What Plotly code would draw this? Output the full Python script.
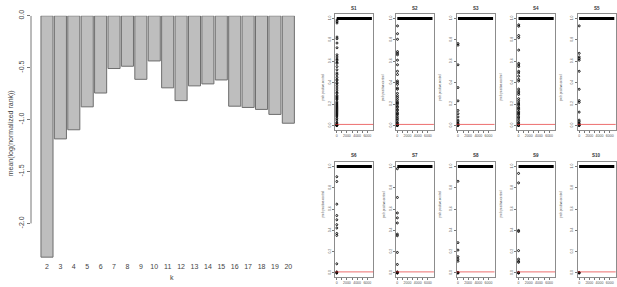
import plotly.graph_objects as go

# ---------------- data ----------------
k_values = [2, 3, 4, 5, 6, 7, 8, 9, 10, 11, 12, 13, 14, 15, 16, 17, 18, 19, 20]
mean_log_rank = [-2.325, -1.186, -1.098, -0.877, -0.744, -0.508, -0.486, -0.612, -0.435,
                 -0.694, -0.817, -0.675, -0.656, -0.618, -0.871, -0.883, -0.902, -0.95, -1.035]
bar_yticks = [-2.0, -1.5, -1.0, -0.5, 0.0]
bar_yticklabels = ["-2.0", "-1.5", "-1.0", "-0.5", "0.0"]

panel_names = ["S1", "S2", "S3", "S4", "S5", "S6", "S7", "S8", "S9", "S10"]
s1 = [0.0, 0.0, 0.0, 0.005, 0.01, 0.02, 0.03, 0.05, 0.064, 0.08, 0.09, 0.1, 0.11, 0.12, 0.13,
      0.14, 0.15, 0.16, 0.17, 0.18, 0.19, 0.2, 0.21, 0.22, 0.24, 0.25, 0.26, 0.27, 0.28, 0.3,
      0.31, 0.33, 0.35, 0.37, 0.39, 0.4, 0.42, 0.43, 0.45, 0.475, 0.49, 0.52, 0.55, 0.58, 0.59,
      0.61, 0.62, 0.64, 0.66, 0.726, 0.77, 0.81, 0.826, 0.957, 0.97, 0.985]
s2 = [0.0, 0.0, 0.0, 0.01, 0.02, 0.03, 0.05, 0.064, 0.08, 0.1, 0.11, 0.12, 0.14, 0.15, 0.17,
      0.18, 0.2, 0.21, 0.22, 0.24, 0.26, 0.277, 0.3, 0.338, 0.35, 0.384, 0.4, 0.415, 0.476,
      0.506, 0.567, 0.61, 0.66, 0.675, 0.69, 0.805, 0.857, 0.93]
s3 = [0.0, 0.0, 0.01, 0.02, 0.035, 0.05, 0.08, 0.11, 0.14, 0.23, 0.354, 0.567, 0.75, 0.765]
s4 = [0.0, 0.0, 0.0, 0.01, 0.02, 0.03, 0.05, 0.07, 0.08, 0.1, 0.11, 0.12, 0.13, 0.15, 0.16,
      0.17, 0.19, 0.2, 0.21, 0.23, 0.25, 0.29, 0.305, 0.32, 0.34, 0.415, 0.43, 0.46, 0.49,
      0.506, 0.55, 0.565, 0.58, 0.704, 0.82, 0.84, 0.927, 0.94]
s5 = [0.0, 0.0, 0.01, 0.02, 0.035, 0.05, 0.125, 0.216, 0.232, 0.338, 0.506, 0.61, 0.625,
      0.64, 0.674, 0.93]
s6 = [0.0, 0.0, 0.005, 0.01, 0.086, 0.353, 0.371, 0.423, 0.454, 0.5, 0.54, 0.647, 0.86, 0.905]
s7 = [0.0, 0.0, 0.005, 0.01, 0.08, 0.193, 0.35, 0.365, 0.47, 0.518, 0.564, 0.71, 0.98]
s8 = [0.0, 0.0, 0.005, 0.11, 0.13, 0.153, 0.215, 0.285, 0.862]
s9 = [0.0, 0.0, 0.005, 0.1, 0.11, 0.13, 0.21, 0.39, 0.4, 0.847, 0.936]
s10 = [0.0, 0.0, 0.005]
panel_values = [s1, s2, s3, s4, s5, s6, s7, s8, s9, s10]
plateau_start = 0       # genes at 1.0 run from the first ...
n_genes = 6900          # ... to the last gene
plateau_value = 1.0
cutoff = 0.01           # red reference line
panel_yticks = [0.0, 0.2, 0.4, 0.6, 0.8, 1.0]
panel_yticklabels = ["0.0", "0.2", "0.4", "0.6", "0.8", "1.0"]
panel_xticks = [0, 1000, 2000, 3000, 4000, 5000, 6000]
panel_xticklabels = ["0", "", "2000", "", "4000", "", "6000"]

# ---------------- layout helpers ----------------
W, H = 617, 287
def fx(px):
    return px / W
def fy(py):
    return 1 - py / H

FONT = "Liberation Sans, Arial, sans-serif"
fig = go.Figure()

# bar chart
fig.add_trace(go.Bar(x=k_values, y=mean_log_rank, width=0.9,
                     marker=dict(color="#bebebe", line=dict(color="#6e6e6e", width=1)),
                     xaxis="x", yaxis="y", showlegend=False))

layout = dict(
    width=W, height=H, margin=dict(l=0, r=0, t=0, b=0),
    paper_bgcolor="white", plot_bgcolor="white", showlegend=False,
    font=dict(family=FONT, color="#333"),
    xaxis=dict(domain=[fx(31), fx(300)], range=[0.807, 20.87], tickvals=k_values,
               ticktext=[str(v) for v in k_values], showgrid=False, zeroline=False,
               showline=False, ticks="", tickfont=dict(size=7, color="#444")),
    yaxis=dict(domain=[fy(260), fy(10)], range=[-2.358, 0.0], tickvals=bar_yticks,
               ticktext=bar_yticklabels, tickangle=-90, showgrid=False, zeroline=False,
               showline=False, ticks="outside", ticklen=3, tickwidth=1, tickcolor="#777",
               tickfont=dict(size=7, color="#444")),
)
shapes = [dict(type="line", xref="x domain", yref="y", x0=0, x1=0, y0=-2.0, y1=0.0,
               line=dict(color="#777", width=1))]
annotations = [
    dict(text="mean(log(normalized rank))", x=fx(5), y=fy(130), xref="paper", yref="paper",
         textangle=-90, showarrow=False, font=dict(size=7, color="#444")),
    dict(text="k", x=fx(167.7), y=fy(283), xref="paper", yref="paper", showarrow=False,
         font=dict(size=7, color="#444")),
]

lefts = [335.3, 395.9, 456.5, 517.1, 577.7]
pw = 38
rows = [(8.3, 126.4), (159.7, 277.0)]
title_y = [3.0, 152.7]
for i, (name, vals) in enumerate(zip(panel_names, panel_values)):
    r, c = divmod(i, 5)
    ax = i + 2
    xa, ya = f"x{ax}", f"y{ax}"
    x0p = lefts[c]
    top, bot = rows[r]
    fig.add_trace(go.Scatter(x=list(range(1, len(vals) + 1)), y=vals, mode="markers",
                             marker=dict(symbol="circle-open", size=2, color="black",
                                         line=dict(width=0.9)),
                             xaxis=xa, yaxis=ya))
    axis_common = dict(showgrid=False, zeroline=False, showline=True, mirror=True,
                       linecolor="#8c8c8c", linewidth=1, ticks="outside", ticklen=2,
                       tickwidth=0.5, tickcolor="#777", tickfont=dict(size=3.5, color="#555"))
    layout[f"xaxis{ax}"] = dict(domain=[fx(x0p), fx(x0p + pw)], range=[-276, 7176],
                                anchor=ya, tickvals=panel_xticks, ticktext=panel_xticklabels,
                                **axis_common)
    layout[f"yaxis{ax}"] = dict(domain=[fy(bot), fy(top)], range=[-0.04, 1.04], anchor=xa,
                                tickvals=panel_yticks, ticktext=panel_yticklabels,
                                tickangle=-90, **axis_common)
    # genes sitting at 1.0: thousands of overlapping points form a thick band
    shapes.append(dict(type="line", xref=xa, yref=ya, x0=plateau_start, x1=n_genes,
                       y0=plateau_value, y1=plateau_value,
                       line=dict(color="black", width=3)))
    shapes.append(dict(type="line", xref=f"{xa} domain", yref=ya, x0=0, x1=1,
                       y0=cutoff, y1=cutoff, line=dict(color="#e53030", width=0.7)))
    annotations.append(dict(text=f"<b>{name}</b>", x=fx(x0p + pw / 2), y=fy(title_y[r]),
                            xref="paper", yref="paper", showarrow=False,
                            xanchor="center", yanchor="middle",
                            font=dict(size=4.5, color="#333")))
    annotations.append(dict(text="prob.positive.control", x=fx(x0p - 12),
                            y=fy((top + bot) / 2), xref="paper", yref="paper",
                            textangle=-90, showarrow=False,
                            font=dict(size=3, color="#555")))

layout["shapes"] = shapes
layout["annotations"] = annotations
fig.update_layout(**layout)
fig.write_html("out.html", config={"displayModeBar": False},
               post_script="document.body.style.margin='0';")
